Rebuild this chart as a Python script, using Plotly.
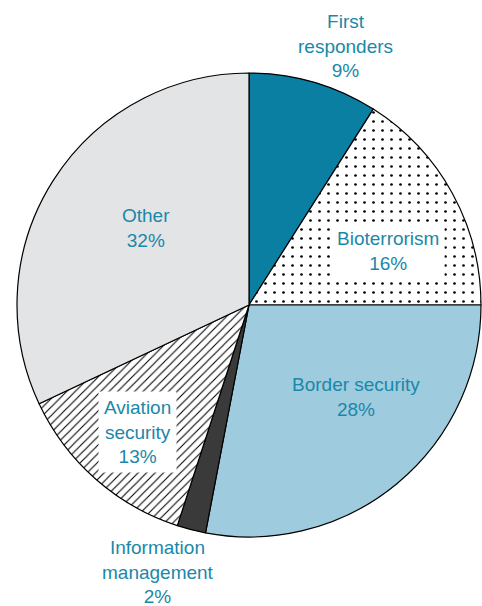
import plotly.graph_objects as go

categories = ["First responders", "Bioterrorism", "Border security",
              "Information management", "Aviation security", "Other"]
values = [9, 16, 28, 2, 13, 32]
label_texts = ["First<br>responders<br>9%", "Bioterrorism<br>16%", "Border security<br>28%",
               "Information<br>management<br>2%", "Aviation<br>security<br>13%", "Other<br>32%"]

colors = ["#0a7fa2", "#ffffff", "#9ecbde", "#3a3a3a", "#ffffff", "#e3e4e6"]
shapes = ["", ".", "", "", "/", ""]

W, H = 482, 606
cx, cy, r = 249, 305, 232

fig = go.Figure(go.Pie(
    labels=categories, values=values, sort=False, direction="clockwise", rotation=0,
    textinfo="none", hoverinfo="label+percent",
    marker=dict(colors=colors, line=dict(color="#000000", width=1.2),
                pattern=dict(shape=shapes, fgcolor="#000000", bgcolor=colors,
                             size=[8, 9, 8, 8, 6, 8], solidity=[0.3, 0.07, 0.3, 0.3, 0.18, 0.3])),
    domain=dict(x=[(cx - r) / W, (cx + r) / W], y=[(H - cy - r) / H, (H - cy + r) / H]),
    showlegend=False,
))

# label positions (pixel centers)
pos = [(345, 46), (388, 251), (356, 397), (158, 572), (137, 432), (146, 228)]
boxed = [False, True, False, False, True, False]
font_c = "#1a88a9"
for t, (x, y), b in zip(label_texts, pos, boxed):
    fig.add_annotation(
        x=x / W, y=1 - y / H, xref="paper", yref="paper", text=t, showarrow=False,
        font=dict(family="Liberation Sans, Arial, sans-serif", size=19, color=font_c),
        align="center", xanchor="center", yanchor="middle",
        bgcolor="#ffffff" if b else "rgba(0,0,0,0)", borderpad=5 if b else 0,
    )

fig.update_layout(width=W, height=H, margin=dict(l=0, r=0, t=0, b=0),
                  paper_bgcolor="#ffffff", plot_bgcolor="#ffffff")
fig.write_html("out.html")
